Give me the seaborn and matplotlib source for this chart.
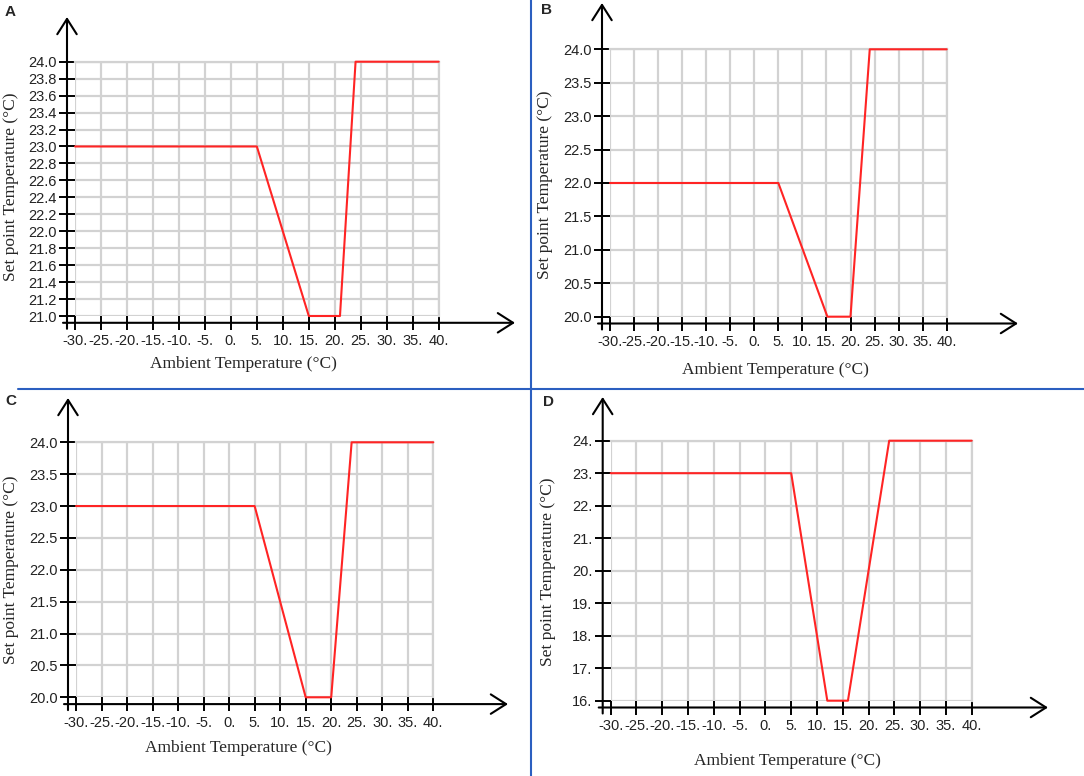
import pandas as pd
import seaborn as sns
import matplotlib.pyplot as plt

W, H = 1084, 776

# breakpoints of the set point curve for each panel
amb_a = [-30, 5, 15, 21, 24, 40]
set_a = [23, 23, 21, 21, 24, 24]
amb_b = [-30, 5, 15.2, 20, 24, 40]
set_b = [22, 22, 20, 20, 24, 24]
amb_c = [-30, 5, 15, 20, 24, 40]
set_c = [23, 23, 20, 20, 24, 24]
amb_d = [-30, 5, 12, 16, 24, 40]
set_d = [23, 23, 16, 16, 24, 24]

x_ticks = [-30, -25, -20, -15, -10, -5, 0, 5, 10, 15, 20, 25, 30, 35, 40]
y_ticks_a = [21.0, 21.2, 21.4, 21.6, 21.8, 22.0, 22.2, 22.4, 22.6, 22.8,
             23.0, 23.2, 23.4, 23.6, 23.8, 24.0]
y_ticks_bc = [20.0, 20.5, 21.0, 21.5, 22.0, 22.5, 23.0, 23.5, 24.0]
y_ticks_d = [16, 17, 18, 19, 20, 21, 22, 23, 24]

sns.set_style('white')
plt.rcParams['font.family'] = ['Liberation Sans', 'DejaVu Sans']

fig = plt.figure(figsize=(W / 100, H / 100), dpi=100)

# layout in pixels: plot box left/right/top/bottom, axis offsets, arrow tips
panels = [
    dict(letter='A', x=amb_a, y=set_a, yt=y_ticks_a, fmt='{:.1f}',
         box=(75, 438.7, 61.7, 316), xtip=515, ytip=17,
         xlab=(243, 364), ylab=(11, 187), let=(10.5, 12)),
    dict(letter='B', x=amb_b, y=set_b, yt=y_ticks_bc, fmt='{:.1f}',
         box=(610, 946.7, 49.3, 316.7), xtip=1018, ytip=3,
         xlab=(775, 370), ylab=(545, 185), let=(547, 10)),
    dict(letter='C', x=amb_c, y=set_c, yt=y_ticks_bc, fmt='{:.1f}',
         box=(76, 433.3, 442.3, 697.3), xtip=508, ytip=398,
         xlab=(238, 748), ylab=(11, 570), let=(10.5, 401)),
    dict(letter='D', x=amb_d, y=set_d, yt=y_ticks_d, fmt='{:.0f}.',
         box=(610.7, 971.7, 440.7, 700.7), xtip=1048, ytip=397,
         xlab=(787, 761), ylab=(548, 572), let=(548, 402)),
]

off_l = 8.0   # px, y axis line left of plot box
off_b = 6.8   # px, x axis line below plot box
grid_c = '#d2d2d2'

for p in panels:
    x0, x1, yt, yb = p['box']
    ax = fig.add_axes([x0 / W, 1 - yb / H, (x1 - x0) / W, (yb - yt) / H])
    df = pd.DataFrame({'amb': p['x'], 'sp': p['y']})
    sns.lineplot(data=df, x='amb', y='sp', ax=ax, color='#ff2424', lw=1.5,
                 clip_on=False, zorder=4)

    ax.set_xlim(-30, 40)
    ax.set_ylim(p['yt'][0], p['yt'][-1])
    ax.set_xticks(x_ticks)
    ax.set_xticklabels([f'{v}.' for v in x_ticks])
    ax.set_yticks(p['yt'])
    ax.set_yticklabels([p['fmt'].format(v) for v in p['yt']])
    ax.set_xlabel('')
    ax.set_ylabel('')
    ax.grid(True, color=grid_c, lw=1.6)
    ax.set_axisbelow(True)

    ax.spines['left'].set_position(('outward', off_l * 0.72))
    ax.spines['bottom'].set_position(('outward', off_b * 0.72))
    ax.spines['left'].set_visible(False)
    ax.spines['bottom'].set_visible(False)
    for s in ('top', 'right'):
        ax.spines[s].set_color(grid_c)
        ax.spines[s].set_linewidth(1.6)

    ax.tick_params(axis='y', direction='inout', length=2 * off_l * 0.72,
                   width=1.4, color='black', pad=1.5, labelsize=10.5,
                   labelcolor='#222222', left=True)
    ax.tick_params(axis='x', direction='inout', length=2 * off_b * 0.72,
                   width=1.4, color='black', pad=3.5, labelsize=10.5,
                   labelcolor='#222222', bottom=True)

    # axis lines with open arrow heads
    ax_x = x0 - off_l
    ax_y = yb + off_b
    arrow = dict(arrowstyle='->,head_length=0.55,head_width=0.35',
                 lw=1.5, color='black', shrinkA=0, shrinkB=0,
                 mutation_scale=20)
    ax.annotate('', xy=(ax_x, H - p['ytip']), xytext=(ax_x, H - (ax_y + 6)),
                xycoords='figure pixels', textcoords='figure pixels',
                arrowprops=arrow)
    ax.annotate('', xy=(p['xtip'], H - ax_y), xytext=(ax_x - 4, H - ax_y),
                xycoords='figure pixels', textcoords='figure pixels',
                arrowprops=arrow)

    fig.text(p['xlab'][0] / W, 1 - p['xlab'][1] / H,
             'Ambient Temperature (°C)', ha='center', va='center',
             fontsize=12.5, family=['Liberation Serif', 'DejaVu Serif'])
    fig.text(p['ylab'][0] / W, 1 - p['ylab'][1] / H,
             'Set point Temperature (°C)', ha='center', va='center',
             rotation=90, fontsize=12.5,
             family=['Liberation Serif', 'DejaVu Serif'])
    fig.text(p['let'][0] / W, 1 - p['let'][1] / H, p['letter'],
             ha='center', va='center', fontsize=11, fontweight='bold')

# blue divider lines between panels
blue = '#2b5fc0'
fig.add_artist(plt.Line2D([531 / W, 531 / W], [0, 1], color=blue, lw=1.5))
fig.add_artist(plt.Line2D([18 / W, 1], [1 - 389 / H, 1 - 389 / H],
                          color=blue, lw=1.5))

fig.savefig('out.png', dpi=100)
